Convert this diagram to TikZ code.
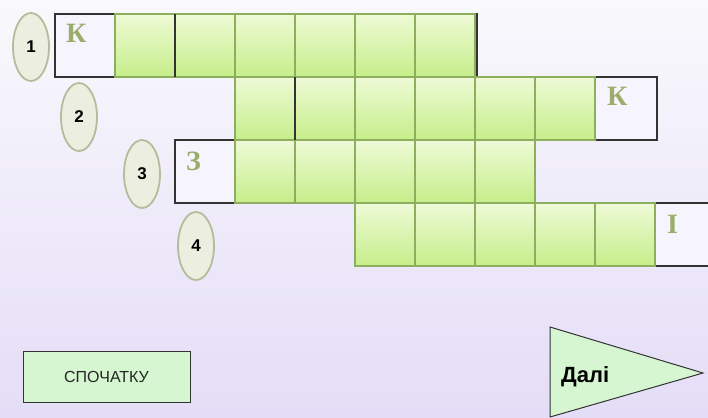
\documentclass[tikz,border=0pt]{standalone}
\usepackage{fontspec}
\setmainfont{Liberation Serif}
\setsansfont{Liberation Sans}
\usetikzlibrary{positioning,shapes.geometric,shadows}

\begin{document}
\begin{tikzpicture}[
  x=1pt, y=-1pt,
  font=\sffamily,
  rowframe/.style={
    draw=frame,
    fill=cellwhite,
    line width=1.1pt,
    anchor=north west,
    minimum height=63pt,
    inner sep=0pt,
    outer sep=0pt
  },
  cell/.style={
    draw=cellline,
    top color=cellhi,
    bottom color=celllo,
    line width=1.4pt,
    anchor=north west,
    minimum width=60pt,
    minimum height=63pt,
    inner sep=0pt,
    outer sep=0pt,
    drop shadow={shadow xshift=0.8pt,shadow yshift=-0.8pt,opacity=0.18}
  },
  letter/.style={font=\rmfamily\bfseries\fontsize{28}{28}\selectfont,text=lettercol,anchor=base west,inner sep=0pt},
  numoval/.style={
    ellipse,
    draw=ovalline,
    fill=ovalfill,
    line width=1.8pt,
    minimum width=36pt,
    minimum height=68pt,
    inner sep=0pt,
    font=\sffamily\bfseries\fontsize{17}{17}\selectfont
  },
  button/.style={
    draw=frame,
    fill=btnfill,
    line width=1pt,
    minimum width=167pt,
    minimum height=51pt,
    font=\sffamily\fontsize{16}{16}\selectfont,
    text=black!85
  },
  divider/.style={draw=frame,line width=1.6pt}
]
\definecolor{bgtop}{HTML}{F9F9FC}
\definecolor{bgbot}{HTML}{E4DDF7}
\definecolor{cellhi}{HTML}{EEFAD6}
\definecolor{celllo}{HTML}{C6EE8A}
\definecolor{cellline}{HTML}{8DAE5C}
\definecolor{cellwhite}{HTML}{F6F5FD}
\definecolor{frame}{HTML}{333333}
\definecolor{lettercol}{HTML}{9BAD6B}
\definecolor{ovalfill}{HTML}{ECEEDF}
\definecolor{ovalline}{HTML}{B5BC9C}
\definecolor{btnfill}{HTML}{D5F6D0}

\fill[top color=bgtop, bottom color=bgbot] (0,0) rectangle (708,417);
\useasboundingbox (0,0) rectangle (708,417);

\node[rowframe, minimum width=422pt] (row1) at (55,14) {};
\node[rowframe, minimum width=422pt] (row2) at (235,77) {};
\node[rowframe, minimum width=360pt] (row3) at (175,140) {};
\node[rowframe, minimum width=360pt] (row4) at (355,203) {};

\foreach \i in {0,...,5}
  \node[cell] (r1c\i) at ({115+60*\i},14) {};
\foreach \i in {0,...,5}
  \node[cell] (r2c\i) at ({235+60*\i},77) {};
\foreach \i in {0,...,4}
  \node[cell] (r3c\i) at ({235+60*\i},140) {};
\foreach \i in {0,...,4}
  \node[cell] (r4c\i) at ({355+60*\i},203) {};

\draw[divider] (r1c1.north west) -- (r1c1.south west);
\draw[divider] (r2c1.north west) -- (r2c1.south west);

\node[letter] (l1) at (66,43) {К};
\node[letter] (l2) at (607,105) {К};
\node[letter] (l3) at (186,170) {З};
\node[letter] (l4) at (667,233) {І};

\node[numoval] (n1) at (31,47) {1};
\node[numoval] (n2) at (79,117) {2};
\node[numoval] (n3) at (142,174) {3};
\node[numoval] (n4) at (196,246) {4};

\node[button] (restart) at (106.5,376.5) {СПОЧАТКУ};

\draw[draw=frame, fill=btnfill, line width=1pt] (550,327) -- (703,373) -- (550,417) -- cycle;
\node[anchor=base west, inner sep=0pt, font=\sffamily\bfseries\fontsize{22}{22}\selectfont] (next) at (561,382) {Далі};
\end{tikzpicture}
\end{document}
